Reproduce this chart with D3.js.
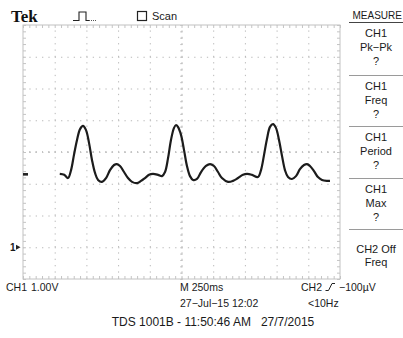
<!DOCTYPE html>
<html>
<head>
<meta charset="utf-8">
<script src="https://cdn.jsdelivr.net/npm/d3@7"></script>
<style>
  body { margin: 0; background: #fff; }
  svg { display: block; font-family: "Liberation Sans", Arial, sans-serif; }
  .txt { fill: #1a1a1a; font-size: 11px; }
  .pie { font-size: 10.5px; }
  .grid line { stroke: #b9b9b9; stroke-dasharray: 1.3,5.04; }
  .minor line { stroke: #c4c4c4; }
</style>
</head>
<body>
<div class="chart-tek"><svg><g class="chart-tek-container"></g></svg></div>
<script>
// datos: tiempo (ms, 0 = centro) y tension CH1 (V)
const tiempos = [-960, -925, -895, -871, -848, -824, -800, -777, -753, -729, -706, -682, -658, -627,
  -595, -564, -532, -509, -485, -453, -422, -390, -351, -319, -288, -256, -225, -185, -154, -130,
  -106, -83, -59, -43, -28, -4, 20, 43, 67, 91, 122, 154, 193, 225, 256, 288, 319, 367, 406, 446,
  485, 517, 556, 603, 627, 651, 674, 698, 722, 745, 769, 793, 816, 840, 871, 903, 934, 966, 990,
  1013, 1045, 1076, 1108, 1147, 1171];
const voltios = [2.31, 2.28, 2.18, 2.43, 2.91, 3.38, 3.72, 3.82, 3.69, 3.28, 2.75, 2.34, 2.12, 2.06,
  2.18, 2.43, 2.59, 2.62, 2.56, 2.37, 2.18, 2.06, 2.02, 2.09, 2.18, 2.28, 2.31, 2.28, 2.24, 2.37,
  2.81, 3.38, 3.76, 3.85, 3.79, 3.54, 3.06, 2.56, 2.24, 2.12, 2.15, 2.37, 2.56, 2.62, 2.56, 2.37, 2.18,
  2.06, 2.09, 2.18, 2.28, 2.31, 2.28, 2.21, 2.43, 2.91, 3.41, 3.79, 3.88, 3.76, 3.38, 2.87, 2.43,
  2.21, 2.15, 2.24, 2.46, 2.59, 2.62, 2.56, 2.40, 2.21, 2.12, 2.09, 2.09];

// divisiones: 250 ms/div en horizontal, 1.00 V/div en vertical
const ticksTiempo = [-1250, -1000, -750, -500, -250, 0, 250, 500, 750, 1000, 1250];
const ticksVolt = [-1, 0, 1, 2, 3, 4, 5, 6, 7];
const nivelCH2 = 2.3;

const medidas = [
  ['CH1', 'Pk\u2212Pk', '?'],
  ['CH1', 'Freq', '?'],
  ['CH1', 'Period', '?'],
  ['CH1', 'Max', '?'],
  ['CH2 Off', 'Freq']
];

const tekScope = () => {
    const margin = { top: 25, left: 23 };
    const width = 317;
    const height = 254;
    const svg = d3.select('.chart-tek svg').attr('width', 403).attr('height', 338);
    const g = svg.select('.chart-tek-container')
        .attr('transform', 'translate(' + margin.left + ',' + margin.top + ')');

    const scales = {
        x: d3.scaleLinear().domain([-1250, 1250]).range([0, width]),
        y: d3.scaleLinear().domain([-1, 7]).range([height, 0])
    };

    // reticula punteada
    const gridX = d3.axisBottom(scales.x).tickValues(ticksTiempo.slice(1, -1)).tickSize(-height).tickFormat('');
    g.append('g').attr('class', 'grid').attr('transform', 'translate(0,' + height + ')').call(gridX);
    const gridY = d3.axisLeft(scales.y).tickValues(ticksVolt.slice(1, -1)).tickSize(-width).tickFormat('');
    g.append('g').attr('class', 'grid').call(gridY);
    g.selectAll('.grid .domain').remove();

    g.append('rect')
        .attr('width', width).attr('height', height)
        .attr('fill', 'none').attr('stroke', '#c2c2c2');

    // marcas menores en bordes y ejes centrales
    const minorX = d3.range(-1250, 1251, 50);
    const minorY = d3.range(-1, 7.01, 0.2);
    const minors = [
        { ax: d3.axisTop(scales.x).tickValues(minorX).tickSize(-3), t: 'translate(0,0)' },
        { ax: d3.axisBottom(scales.x).tickValues(minorX).tickSize(-3), t: 'translate(0,' + height + ')' },
        { ax: d3.axisLeft(scales.y).tickValues(minorY).tickSize(-3), t: 'translate(0,0)' },
        { ax: d3.axisRight(scales.y).tickValues(minorY).tickSize(-3), t: 'translate(' + width + ',0)' },
        { ax: d3.axisBottom(scales.x).tickValues(minorX).tickSize(2), t: 'translate(0,' + (scales.y(3) - 1) + ')' },
        { ax: d3.axisTop(scales.x).tickValues(minorX).tickSize(2), t: 'translate(0,' + (scales.y(3) + 1) + ')' },
        { ax: d3.axisRight(scales.y).tickValues(minorY).tickSize(2), t: 'translate(' + (scales.x(0) - 1) + ',0)' },
        { ax: d3.axisLeft(scales.y).tickValues(minorY).tickSize(2), t: 'translate(' + (scales.x(0) + 1) + ',0)' }
    ];
    minors.forEach(m => {
        const a = g.append('g').attr('class', 'minor').attr('transform', m.t).call(m.ax.tickFormat(''));
        a.select('.domain').remove();
    });

    // traza CH1
    const linea = d3.line()
        .x((d, i) => scales.x(tiempos[i]))
        .y(d => scales.y(d))
        .curve(d3.curveCatmullRom);
    g.append('path')
        .datum(voltios)
        .attr('d', linea)
        .attr('fill', 'none')
        .attr('stroke', '#1c1c1c')
        .attr('stroke-width', 2.2)
        .attr('stroke-linejoin', 'round');

    // marcadores a la izquierda
    g.append('rect')
        .attr('x', 0).attr('y', scales.y(nivelCH2) - 1.2)
        .attr('width', 5).attr('height', 2.6).attr('fill', '#222');
    svg.append('text').attr('class', 'txt')
        .attr('x', 10).attr('y', margin.top + scales.y(0) + 4)
        .style('font-size', '10px').style('font-weight', 'bold').text('1');
    svg.append('path')
        .attr('d', 'M16,' + (margin.top + scales.y(0) - 2.5) + 'l4.5,2.5l-4.5,2.5z')
        .attr('fill', '#222');

    // cabecera
    svg.append('text')
        .attr('x', 11).attr('y', 21.5)
        .style('font-family', '"Liberation Serif", serif')
        .style('font-weight', 'bold').style('font-size', '17px')
        .attr('fill', '#111').text('Tek');
    svg.append('path')
        .attr('d', 'M73,20.5H79V12H86V20.5H89')
        .attr('fill', 'none').attr('stroke', '#222').attr('stroke-width', 1.1);
    svg.append('path')
        .attr('d', 'M89,20.5H96')
        .attr('fill', 'none').attr('stroke', '#555').attr('stroke-width', 1).attr('stroke-dasharray', '1,1');
    svg.append('rect')
        .attr('x', 137.5).attr('y', 11.5).attr('width', 9).attr('height', 9)
        .attr('fill', 'none').attr('stroke', '#222').attr('stroke-width', 1.2);
    svg.append('text').attr('class', 'txt').attr('x', 152).attr('y', 20).text('Scan');

    // panel de medidas
    svg.append('text').attr('class', 'txt').attr('x', 352.5).attr('y', 19)
        .style('font-size', '10px').text('MEASURE');
    const tops = [22, 75, 126, 178, 229];
    svg.selectAll('.sep')
        .data(tops)
        .enter().append('line')
        .attr('class', 'sep')
        .attr('x1', 349).attr('x2', 403)
        .attr('y1', d => d + 0.5).attr('y2', d => d + 0.5)
        .attr('stroke', (d, i) => i === 0 ? '#444' : '#9a9a9a');
    const cajas = svg.selectAll('.caja')
        .data(medidas)
        .enter().append('g')
        .attr('class', 'caja')
        .attr('transform', (d, i) => 'translate(376,' + tops[i] + ')');
    cajas.selectAll('text')
        .data((d, i) => d.map((t, j) => ({ t, y: (i === 4 ? [24, 37] : [15, 29, 43])[j] })))
        .enter().append('text')
        .attr('class', 'txt')
        .attr('text-anchor', 'middle')
        .attr('y', d => d.y)
        .text(d => d.t);

    // pie
    const pie = [
        { x: 6, y: 291, t: 'CH1' },
        { x: 31, y: 291, t: '1.00V' },
        { x: 180, y: 291, t: 'M 250ms' },
        { x: 301, y: 291, t: 'CH2' },
        { x: 339, y: 291, t: '\u2212100\u00b5V' },
        { x: 180, y: 307, t: '27\u2212Jul\u221215 12:02' },
        { x: 308, y: 307, t: '<10Hz' }
    ];
    svg.selectAll('.pie')
        .data(pie)
        .enter().append('text')
        .attr('class', 'txt pie')
        .attr('x', d => d.x).attr('y', d => d.y)
        .text(d => d.t);
    svg.append('path')
        .attr('d', 'M325.5,290.5H328.5L332,283.5H335')
        .attr('fill', 'none').attr('stroke', '#222').attr('stroke-width', 1);
    svg.append('text').attr('class', 'txt')
        .attr('x', 213).attr('y', 326).attr('text-anchor', 'middle')
        .style('font-size', '12px')
        .text('TDS 1001B - 11:50:46 AM \u00a0 27/7/2015');
}

tekScope()
</script>
</body>
</html>
